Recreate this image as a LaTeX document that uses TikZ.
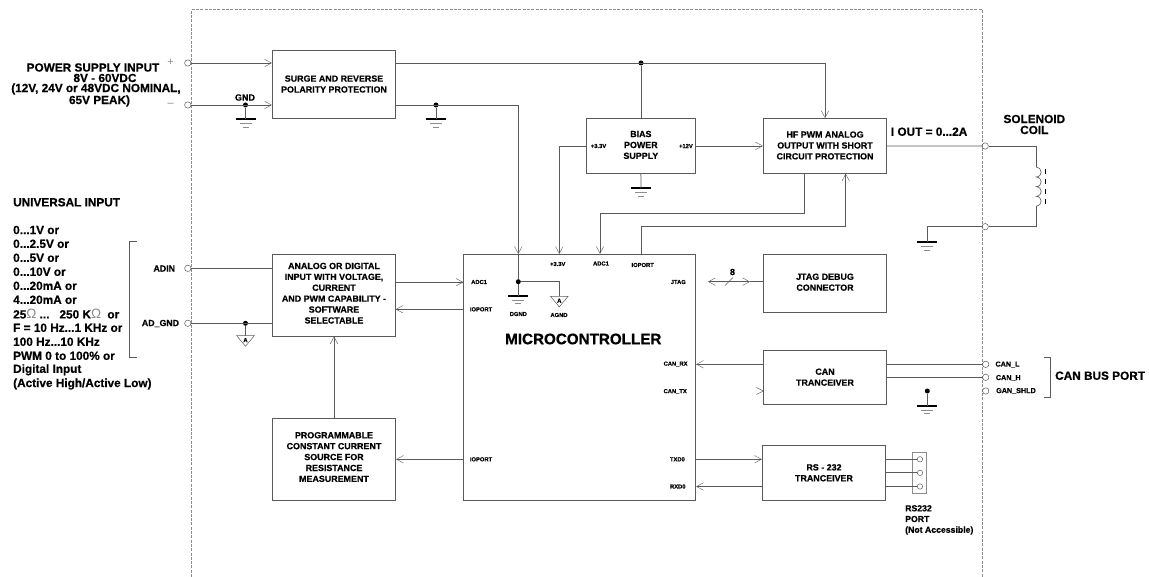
\documentclass[tikz,border=0pt]{standalone}
\usepackage{fontspec}
\setmainfont[BoldFeatures={FakeBold=0.6}]{Liberation Sans}
\usetikzlibrary{arrows.meta}
\definecolor{wirec}{HTML}{5A5A5A}
\definecolor{framec}{HTML}{8C8C8C}
\newcommand{\fs}[1]{\fontsize{#1}{#1}\selectfont\bfseries}
\newcommand{\dn}[1]{\rule[-#1pt]{0pt}{0pt}}
\newcommand{\Om}{{\fontsize{13.5}{12}\selectfont\mdseries\color{framec}\symbol{"03A9}}}
\tikzset{
  wire/.style={draw=wirec,line width=0.75pt},
  arr/.style={wire,-{Straight Barb[length=7pt,width=7.5pt,line width=0.4pt]}},
  arrb/.style={wire,{Straight Barb[length=7pt,width=7.5pt,line width=0.4pt]}-{Straight Barb[length=7pt,width=7.5pt,line width=0.4pt]}},
  blockbox/.style={draw=wirec,line width=0.75pt,inner sep=0pt,align=center,
    font=\fontsize{8.9}{10.9}\selectfont\bfseries},
  term/.style={circle,draw=wirec,line width=0.5pt,minimum size=6.4pt,inner sep=0pt},
  jdot/.style={circle,fill=black,minimum size=5pt,inner sep=0pt},
  small/.style={inner sep=0pt,font=\fs{5.8}},
  txt/.style={inner sep=0pt,font=\fontsize{11.8}{11.8}\selectfont\bfseries},
  mid/.style={inner sep=0pt,font=\fs{8.8}},
  lst/.style={inner sep=0pt,anchor=west,font=\fontsize{11.8}{11.8}\selectfont\bfseries},
  gndsym/.pic={
    \draw[black,line width=2pt] (-10,0) -- (10,0);
    \draw[framec,line width=0.6pt] (-6,4.3) -- (6,4.3);
    \draw[framec,line width=0.6pt] (-3,8) -- (3,8);
  },
  agndsym/.pic={
    \draw[wirec,line width=0.5pt] (-8.8,0) -- (8.8,0) -- (0,10.6) -- cycle;
    \node[inner sep=0pt,font=\fs{6}] at (0,4.4) {A};
  },
}
\begin{document}
\begin{tikzpicture}[x=1pt,y=-1pt]
\useasboundingbox (0,0) rectangle (1149,577);
% frame
\coordinate (fa) at (191.5,577);
\coordinate (fb) at (191.5,9.5);
\coordinate (fc) at (982,9.5);
\coordinate (fd) at (982,577);
\draw[framec,line width=0.6pt,dash pattern=on 3pt off 1.3pt] (fa) -- (fb) -- (fc) -- (fd);
% blocks
\node[blockbox,minimum width=123.4pt,minimum height=68pt] (surge) at (334,84.5) {SURGE AND REVERSE\\POLARITY PROTECTION\dn{1}};
\node[blockbox,minimum width=109.7pt,minimum height=54.8pt] (bias) at (640.85,145.9) {BIAS\\POWER\\SUPPLY\dn{2}};
\node[blockbox,minimum width=123.4pt,minimum height=54.8pt] (hf) at (825,145.9) {HF PWM ANALOG\\OUTPUT WITH SHORT\\CIRCUIT PROTECTION\dn{1}};
\node[blockbox,minimum width=232.4pt,minimum height=245.7pt] (mcu) at (579.5,377.15) {};
\node[blockbox,minimum width=123.4pt,minimum height=57.7pt] (jtag) at (825,283.15) {JTAG DEBUG\\CONNECTOR\dn{2}};
\node[blockbox,minimum width=123.4pt,minimum height=54.3pt] (can) at (825,377.15) {CAN\\TRANCEIVER};
\node[blockbox,minimum width=123.4pt,minimum height=55pt] (rs) at (824,472.8) {RS - 232\\TRANCEIVER};
\node[blockbox,minimum width=123.4pt,minimum height=81.7pt] (analog) at (334,295.15) {ANALOG OR DIGITAL\\INPUT WITH VOLTAGE,\\CURRENT\\AND PWM CAPABILITY -\\SOFTWARE\\SELECTABLE\dn{4}};
\node[blockbox,minimum width=123.4pt,minimum height=82pt] (prog) at (334,459) {PROGRAMMABLE\\CONSTANT CURRENT\\SOURCE FOR\\RESISTANCE\\MEASUREMENT\dn{4}};
\node[draw=framec,line width=0.6pt,inner sep=0pt,minimum width=14.4pt,minimum height=41pt] (rsport) at (919.5,472.8) {};
% terminals
\node[term] (vp) at (187.8,63) {};
\node[term] (vm) at (187.8,105) {};
\node[term] (adin) at (187.8,268.3) {};
\node[term] (adg) at (187.8,323.3) {};
\node[term] (solA) at (985.2,146) {};
\node[term] (solB) at (985.2,226.7) {};
\node[term] (canL) at (985.7,364.3) {};
\node[term] (canH) at (985.7,377.3) {};
\node[term] (canS) at (985.7,391) {};
\node[term,minimum size=5.4pt] (p1) at (920,459.3) {};
\node[term,minimum size=5.4pt] (p2) at (920,472.8) {};
\node[term,minimum size=5.4pt] (p3) at (920,486.5) {};
% junctions
\node[jdot] (jtop) at (641,63) {};
\node[jdot] (jgnd) at (245.5,105) {};
\node[jdot] (jsur) at (436,105) {};
\node[jdot] (jmcu) at (518.3,281.7) {};
\node[jdot] (jad) at (245.5,323.3) {};
\node[jdot] (jcan) at (927.3,391) {};
% ground points
\coordinate (g1) at (245.5,119);
\coordinate (g2) at (436,119);
\coordinate (g3) at (641,188.3);
\coordinate (g4) at (518.3,295.7);
\coordinate (g5) at (927.3,242.3);
\coordinate (g6) at (927.3,405.7);
\coordinate (a1) at (245.5,335.7);
\coordinate (a2) at (559.3,296.3);
\foreach \g in {g1,g2,g3,g4,g5,g6} \path (\g) pic {gndsym};
\foreach \g in {a1,a2} \path (\g) pic {agndsym};
% power wiring
\draw[arr] (vp) -- (vp -| surge.west);
\draw[arr] (vm) -- (vm -| surge.west);
\draw[arr] (vp -| surge.east) -- (vp -| hf.north) -- (hf.north);
\draw[wire] (jtop) -- (jtop |- bias.north);
\draw[wire] (jgnd) -- (g1);
\draw[wire] (jsur) -- (g2);
\draw[arr] (vm -| surge.east) -- (vm -| jmcu) -- (jmcu |- mcu.north);
\draw[wire] (jmcu |- mcu.north) -- (jmcu);
\draw[wire] (jmcu) -- (g4);
\draw[wire] (jmcu) -- (jmcu -| a2) -- (a2);
\coordinate (b33) at (586,146);
\coordinate (r33) at (559.3,146);
\draw[arr] (b33) -- (r33) -- (r33 |- mcu.north);
\draw[arr] (bias.east) -- (hf.west);
\draw[wire] (bias.south) -- (g3);
% HF feedback
\coordinate (hfa) at (804.3,173.3);
\coordinate (hfb) at (804.3,213.3);
\coordinate (hfc) at (600,213.3);
\draw[arr] (hfa) -- (hfb) -- (hfc) -- (hfc |- mcu.north);
\coordinate (ioa) at (641.3,254.3);
\coordinate (iob) at (641.3,226.7);
\coordinate (ioc) at (845.7,226.7);
\draw[arr] (ioa) -- (iob) -- (ioc) -- (ioc |- hf.south);
% solenoid
\coordinate (coilA) at (1036.3,167.3);
\coordinate (coilB) at (1036.3,206);
\draw[wire] (hf.east) -- (solA);
\draw[wire] (solA) -- (solA -| coilA) -- (coilA);
\draw[wire,line width=0.6pt] (coilA)
  .. controls +(6.5,0.5) and +(6.5,-0.5) .. ++(0,9.675)
  .. controls +(6.5,0.5) and +(6.5,-0.5) .. ++(0,9.675)
  .. controls +(6.5,0.5) and +(6.5,-0.5) .. ++(0,9.675)
  .. controls +(6.5,0.5) and +(6.5,-0.5) .. (coilB);
\draw[wire] (coilB) -- (coilB |- solB) -- (solB);
\draw[wire] (solB) -- (solB -| g5) -- (g5);
\coordinate (core1) at (1045.3,169);
\coordinate (core2) at (1045.3,205);
\draw[black,line width=0.8pt,dash pattern=on 5.5pt off 4.5pt] (core1) -- (core2);
% universal input
\draw[wire] (adin) -- (adin -| analog.west);
\draw[wire] (adg) -- (adg -| analog.west);
\draw[wire] (jad) -- (a1);
\coordinate (ana1) at (395.7,282.2);
\coordinate (mcu1) at (463.3,282.2);
\draw[arr] (ana1) -- (mcu1);
\coordinate (ana2) at (395.7,309.3);
\coordinate (mcu2) at (463.3,309.3);
\draw[arr] (mcu2) -- (ana2);
\draw[arr] (prog.north) -- (analog.south);
\coordinate (mcu3) at (463.3,459.3);
\draw[arr] (mcu3) -- (mcu3 -| prog.east);
% JTAG
\coordinate (jtl) at (708,281.7);
\coordinate (jtr) at (750,281.7);
\coordinate (jts1) at (725,285.5);
\coordinate (jts2) at (733,277.5);
\draw[arrb] (jtl) -- (jtr);
\draw[wire] (jtr) -- (jtr -| jtag.west);
\draw[wire,line width=0.5pt] (jts1) -- (jts2);
% CAN
\draw[arr] (can.west |- canL) -- (canL -| mcu.east);
\draw[wire] (can.east |- canL) -- (canL);
\draw[wire] (can.east |- canH) -- (canH);
\draw[wire] (jcan) -- (g6);
\coordinate (chA) at (756.3,387.5);
\coordinate (chB) at (763.3,391);
\coordinate (chC) at (756.3,394.5);
\draw[wirec,line width=0.4pt] (chA) -- (chB) -- (chC);
% RS232
\draw[arr] (p1 -| mcu.east) -- (p1 -| rs.west);
\draw[arr] (p3 -| rs.west) -- (p3 -| mcu.east);
\draw[wire] (p1 -| rs.east) -- (p1);
\draw[wire] (p2 -| rs.east) -- (p2);
\draw[wire] (p3 -| rs.east) -- (p3);
% brackets
\coordinate (bl1) at (137,241);
\coordinate (bl2) at (129,241);
\coordinate (bl3) at (129,357.3);
\coordinate (bl4) at (137,357.3);
\draw[wire,line width=0.6pt] (bl1) -- (bl2) -- (bl3) -- (bl4);
\coordinate (br1) at (1044,357.3);
\coordinate (br2) at (1050.7,357.3);
\coordinate (br3) at (1050.7,397.3);
\coordinate (br4) at (1044,397.3);
\draw[wire,line width=0.6pt] (br1) -- (br2) -- (br3) -- (br4);
% power supply text
\node[txt] (t1) at (93,67.5) {POWER SUPPLY INPUT};
\node[txt] (t2) at (105,78) {8V - 60VDC};
\node[txt] (t3) at (96,89) {(12V, 24V or 48VDC NOMINAL,};
\node[txt] (t4) at (99.5,101) {65V PEAK)};
\node[inner sep=0pt,text=framec,font=\fontsize{11}{11}\selectfont] (tp) at (170.7,62.5) {+};
\node[inner sep=0pt,text=framec,font=\fontsize{11}{11}\selectfont] (tm) at (170.7,104.5) {–};
\node[inner sep=0pt,font=\fs{9}] (tgnd) at (245,97.5) {GND};
% universal text
\node[lst] (u0) at (13,202.3) {UNIVERSAL INPUT};
\node[lst] (u1) at (13,230) {0...1V or};
\node[lst] (u2) at (13,243.8) {0...2.5V or};
\node[lst] (u3) at (13,257.8) {0...5V or};
\node[lst] (u4) at (13,271.8) {0...10V or};
\node[lst] (u5) at (13,285.8) {0...20mA or};
\node[lst] (u6) at (13,299.8) {4...20mA or};
\node[lst] (u7) at (13,313.8) {25\Om{} ...\hspace{10pt}250 K\Om{}\hspace{3pt} or};
\node[lst] (u8) at (13,327.8) {F = 10 Hz...1 KHz or};
\node[lst] (u9) at (13,341.8) {100 Hz...10 KHz};
\node[lst] (u10) at (13,355.8) {PWM 0 to 100\% or};
\node[lst] (u11) at (13,369.8) {Digital Input};
\node[lst] (u12) at (13,384) {(Active High/Active Low)};
\node[mid,anchor=west] (l1) at (153.3,268.5) {ADIN};
\node[mid,anchor=west] (l2) at (141.7,323.5) {AD\_GND};
% MCU labels
\node[small,anchor=west] at (471,282) (m1) {ADC1};
\node[small,anchor=west] at (469.7,309.3) (m2) {IOPORT};
\node[small,anchor=west] at (469.7,459.3) (m3) {IOPORT};
\node[small] at (557.7,264) (m4) {+3.3V};
\node[small] at (601,263.5) (m5) {ADC1};
\node[small] at (642.7,265) (m6) {IOPORT};
\node[small,anchor=east] at (686,282) (m7) {JTAG};
\node[small,anchor=east] at (687.7,364) (m8) {CAN\_RX};
\node[small,anchor=east] at (687,391.5) (m9) {CAN\_TX};
\node[small,anchor=east] at (685,459.3) (m10) {TXD0};
\node[small,anchor=east] at (685.7,486.5) (m11) {RXD0};
\node[small] at (518.3,314) (m12) {DGND};
\node[small] at (559,315) (m13) {AGND};
\node[inner sep=0pt,font=\fs{15.2}] (m14) at (583.3,339) {MICROCONTROLLER};
\node[small,anchor=west] (b1) at (590.7,146) {+3.3V};
\node[small,anchor=east] (b2) at (693,146) {+12V};
\node[inner sep=0pt,font=\fs{9}] (j8) at (732.5,272) {8};
% right text
\node[txt,anchor=west] (iout) at (890.7,131.7) {I OUT = 0...2A};
\node[txt] (so1) at (1034.3,119) {SOLENOID};
\node[txt] (so2) at (1034.3,130) {COIL};
\node[txt,anchor=west] (cb) at (1055,375.7) {CAN BUS PORT};
\node[inner sep=0pt,anchor=west,font=\fs{7.2}] (c1) at (995.3,364.5) {CAN\_L};
\node[inner sep=0pt,anchor=west,font=\fs{7.2}] (c2) at (995.7,378) {CAN\_H};
\node[inner sep=0pt,anchor=west,font=\fs{7.2}] (c3) at (996,391) {GAN\_SHLD};
\node[inner sep=0pt,anchor=west,font=\fs{8.7}] (r1) at (905,508.3) {RS232};
\node[inner sep=0pt,anchor=west,font=\fs{8.7}] (r2) at (905,519) {PORT};
\node[inner sep=0pt,anchor=west,font=\fs{8.7}] (r3) at (905,530.5) {(Not Accessible)};
\end{tikzpicture}
\end{document}
